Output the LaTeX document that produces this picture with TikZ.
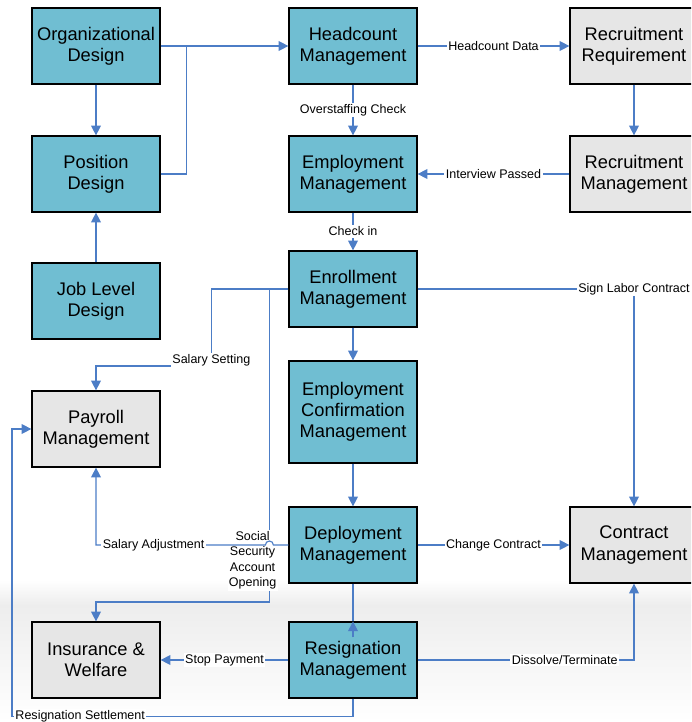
\documentclass[tikz,border=0pt]{standalone}
\usepackage{fontspec}
\setmainfont{Liberation Sans}
\usetikzlibrary{arrows.meta,calc}

\definecolor{tealfill}{RGB}{112,190,210}
\definecolor{greyfill}{RGB}{230,230,230}
\definecolor{linkblue}{RGB}{76,125,198}

\tikzset{
  procbox/.style={draw=black, line width=0.85pt, fill=tealfill, minimum width=3.2cm,
    minimum height=1.9cm, align=center, inner sep=2pt, font=\fontsize{13}{15}\selectfont},
  extbox/.style={procbox, fill=greyfill},
  wire/.style={draw=linkblue, line width=0.8pt},
  flow/.style={wire, -{Triangle[length=7pt,width=7pt]}},
  lbl/.style={fill=white, inner sep=1pt, font=\fontsize{8.9}{11}\selectfont, text=black},
}

\begin{document}
\begin{tikzpicture}[x=0.025cm, y=-0.025cm]
        \useasboundingbox (0,0) rectangle (691,722);
        \clip (0,0) rectangle (691,722);

        % faint page shadow near the bottom
        \fill[top color=white, bottom color=black!7, draw=none] (0,580) rectangle (691,605);
        \fill[top color=black!7, bottom color=white, draw=none] (0,605) rectangle (691,722);

        % Left column
        \node[procbox] (org) at (96,46) {Organizational\\Design};
        \node[procbox] (posd) at (96,174) {Position\\Design};
        \node[procbox] (joblvl) at (96,301) {Job Level\\Design};
        \node[extbox] (payroll) at (96,429) {Payroll\\Management};
        \node[extbox] (ins) at (96,660) {Insurance \&\\Welfare};

        % Middle column
        \node[procbox] (head) at (353,46) {Headcount\\Management};
        \node[procbox] (empl) at (353,174) {Employment\\Management};
        \node[procbox] (enrol) at (353,289) {Enrollment\\Management};
        \node[procbox, minimum height=2.55cm] (confirm) at (353,412) {Employment\\Confirmation\\Management};
        \node[procbox] (deploy) at (353,545) {Deployment\\Management};
        \node[procbox] (resign) at (353,660) {Resignation\\Management};

        % Right column
        \node[extbox] (recreq) at (634,46) {Recruitment\\Requirement};
        \node[extbox] (recmgmt) at (634,174) {Recruitment\\Management};
        \node[extbox] (contract) at (634,545) {Contract\\Management};

        % Design flows
        \draw[flow] (org) -- (posd);
        \draw[flow] (joblvl) -- (posd);
        \draw[flow] (org) -- (head);
        \draw[wire] (posd.east) -| ($(org.east)!0.2!(head.west)$);

        % Recruitment loop
        \draw[flow] (head) -- node[lbl] {Headcount Data} (recreq);
        \draw[flow] (head) -- node[lbl] {Overstaffing Check} (empl);
        \draw[flow] (recreq) -- (recmgmt);
        \draw[flow] (recmgmt) -- node[lbl] {Interview Passed} (empl);

        % Main chain
        \draw[flow] (empl) -- node[lbl] {Check in} (enrol);
        \draw[flow] (enrol) -- (confirm);
        \draw[flow] (confirm) -- (deploy);
        \draw[wire] (deploy.south) -- (resign.north);
        \draw[flow] ($(resign.north)+(0,16)$) -- (resign.north);

        % Enrollment outputs
        \draw[flow] (enrol.east) -| node[lbl] {Sign Labor Contract} (contract.north);
        \draw[flow] (enrol.west) -- ++(-77,0) -- ++(0,77) node[lbl, pos=0.92] {Salary Setting} -| (payroll.north);
        \draw[flow] (enrol.west) -- ++(-19,0) -- ++(0,313)
            node[lbl, align=center, pos=0.867, xshift=-0.42cm] {Social\\Security\\Account\\Opening} -| (ins.north);

        % Deployment outputs
        \draw[flow] (deploy.west) -- ++(-15,0) arc[start angle=0, end angle=-180, radius=4]
            -| node[lbl, pos=0.33] {Salary Adjustment} (payroll.south);
        \draw[flow] (deploy) -- node[lbl] {Change Contract} (contract);

        % Resignation outputs
        \draw[flow] (resign) -- node[lbl] {Stop Payment} (ins);
        \draw[flow] (resign.east) -| node[lbl, pos=0.34] {Dissolve/Terminate} (contract.south);
        \draw[flow] (resign.south) -- ++(0,18) -- ++(-341,0) node[lbl, pos=0.8] {Resignation Settlement} |- (payroll.west);
\end{tikzpicture}
\end{document}
